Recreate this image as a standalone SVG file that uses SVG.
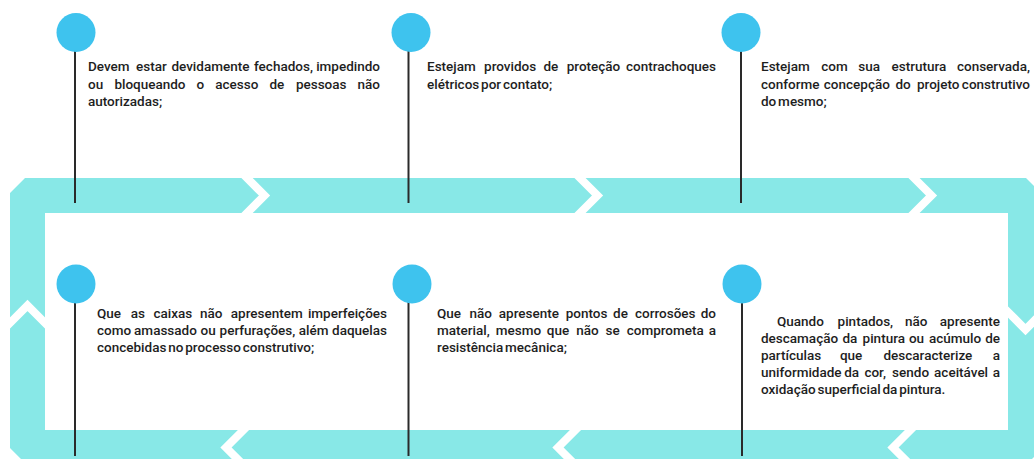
<svg xmlns="http://www.w3.org/2000/svg" width="1034" height="459" viewBox="0 0 1034 459">
<style>
.band{fill:#88e8e7}
.gap{fill:none;stroke:#ffffff;stroke-width:8;stroke-linejoin:miter}
.dot{fill:#3ec3ee}
.stem{stroke:#2a2a2a;stroke-width:2}
.t{font-family:Roboto,"Liberation Sans",sans-serif;font-size:13.5px;font-weight:500;fill:#1e1e1e}
.e{text-anchor:end}
.last{word-spacing:-1.5px}
</style>
<rect width="1034" height="459" fill="#ffffff"/>
<g id="connectors">
<path class="band" fill-rule="evenodd" d="M10,193 L25,178 L1026,178 L1043,195 L1043,448 L1026,465 L27,465 L10,448 Z M45,213 L45,430 L1008,430 L1008,213 Z"/>
<polyline class="gap" points="243,174 264.5,195.5 243,217"/>
<polyline class="gap" points="576,174 597.5,195.5 576,217"/>
<polyline class="gap" points="910,174 931.5,195.5 910,217"/>
<polyline class="gap" points="247.5,426 226,447.5 247.5,469"/>
<polyline class="gap" points="579.5,426 558,447.5 579.5,469"/>
<polyline class="gap" points="914.5,426 893,447.5 914.5,469"/>
<polyline class="gap" points="6,327 27.5,305.5 49,327"/>
<polyline class="gap" points="1004,308 1025.5,329.5 1047,308"/>
</g>
<g id="node1">
<line class="stem" x1="75" y1="50" x2="75" y2="203"/>
<circle class="dot" cx="76" cy="32.5" r="19.5"/>
<text class="t" y="71"><tspan x="88">Devem</tspan><tspan x="136.1">estar</tspan><tspan x="171.4">devidamente</tspan><tspan x="254">fechados,</tspan></text>
<text class="t e" x="380" y="71">impedindo</text>
<text class="t" y="89"><tspan x="88">ou</tspan><tspan x="114.4">bloqueando</tspan><tspan x="196.4">o</tspan><tspan x="215.3">acesso</tspan><tspan x="269.5">de</tspan><tspan x="295.9">pessoas</tspan></text>
<text class="t e" x="380" y="89">não</text>
<text class="t last" x="88" y="106">autorizadas;</text>
</g>
<g id="node2">
<line class="stem" x1="408.5" y1="50" x2="408.5" y2="203"/>
<circle class="dot" cx="411" cy="32.5" r="19.5"/>
<text class="t" y="71"><tspan x="427">Estejam</tspan><tspan x="484.1">providos</tspan><tspan x="543.4">de</tspan><tspan x="566.7">proteção</tspan></text>
<text class="t e" x="716" y="71">contrachoques</text>
<text class="t last" x="427" y="89">elétricos por contato;</text>
</g>
<g id="node3">
<line class="stem" x1="741" y1="50" x2="741" y2="203"/>
<circle class="dot" cx="741" cy="32.5" r="19.5"/>
<text class="t" y="71"><tspan x="761">Estejam</tspan><tspan x="821.3">com</tspan><tspan x="858.3">sua</tspan><tspan x="891.6">estrutura</tspan></text>
<text class="t e" x="1030" y="71">conservada,</text>
<text class="t" y="89"><tspan x="761">conforme</tspan><tspan x="823.8">concepção</tspan><tspan x="895.5">do</tspan><tspan x="917">projeto</tspan></text>
<text class="t e" x="1030" y="89">construtivo</text>
<text class="t last" x="761" y="106">do mesmo;</text>
</g>
<g id="node4">
<line class="stem" x1="75" y1="300" x2="75" y2="456"/>
<circle class="dot" cx="76" cy="284" r="19.5"/>
<text class="t" y="318"><tspan x="97">Que</tspan><tspan x="130.8">as</tspan><tspan x="153.4">caixas</tspan><tspan x="200">não</tspan><tspan x="230.8">apresentem</tspan></text>
<text class="t e" x="387" y="318">imperfeições</text>
<text class="t" y="335"><tspan x="97">como</tspan><tspan x="134.1">amassado</tspan><tspan x="200.5">ou</tspan><tspan x="219.6">perfurações,</tspan><tspan x="298.7">além</tspan></text>
<text class="t e" x="387" y="335">daquelas</text>
<text class="t last" x="97" y="352">concebidas no processo construtivo;</text>
</g>
<g id="node5">
<line class="stem" x1="408.5" y1="300" x2="408.5" y2="456"/>
<circle class="dot" cx="412" cy="284" r="19.5"/>
<text class="t" y="318"><tspan x="437">Que</tspan><tspan x="469.4">não</tspan><tspan x="498.8">apresente</tspan><tspan x="565.7">pontos</tspan><tspan x="613.1">de</tspan><tspan x="635">corrosões</tspan></text>
<text class="t e" x="716" y="318">do</text>
<text class="t" y="335"><tspan x="437">material,</tspan><tspan x="495.7">mesmo</tspan><tspan x="546.8">que</tspan><tspan x="576.2">não</tspan><tspan x="605.5">se</tspan><tspan x="626.7">comprometa</tspan></text>
<text class="t e" x="716" y="335">a</text>
<text class="t last" x="437" y="352">resistência mecânica;</text>
</g>
<g id="node6">
<line class="stem" x1="742" y1="300" x2="742" y2="456"/>
<circle class="dot" cx="742" cy="284" r="19.5"/>
<text class="t" y="326"><tspan x="777">Quando</tspan><tspan x="837.6">pintados,</tspan><tspan x="905">não</tspan></text>
<text class="t e" x="1000" y="326">apresente</text>
<text class="t" y="343"><tspan x="761">descamação</tspan><tspan x="842.5">da</tspan><tspan x="862.6">pintura</tspan><tspan x="908.9">ou</tspan><tspan x="928.9">acúmulo</tspan></text>
<text class="t e" x="1000" y="343">de</text>
<text class="t" y="360"><tspan x="761">partículas</tspan><tspan x="839.9">que</tspan><tspan x="883.5">descaracterize</tspan></text>
<text class="t e" x="1000" y="360">a</text>
<text class="t" y="377"><tspan x="761">uniformidade</tspan><tspan x="844.2">da</tspan><tspan x="864.4">cor,</tspan><tspan x="892.1">sendo</tspan><tspan x="934.1">aceitável</tspan></text>
<text class="t e" x="1000" y="377">a</text>
<text class="t last" x="761" y="394">oxidação superficial da pintura.</text>
</g>
</svg>
